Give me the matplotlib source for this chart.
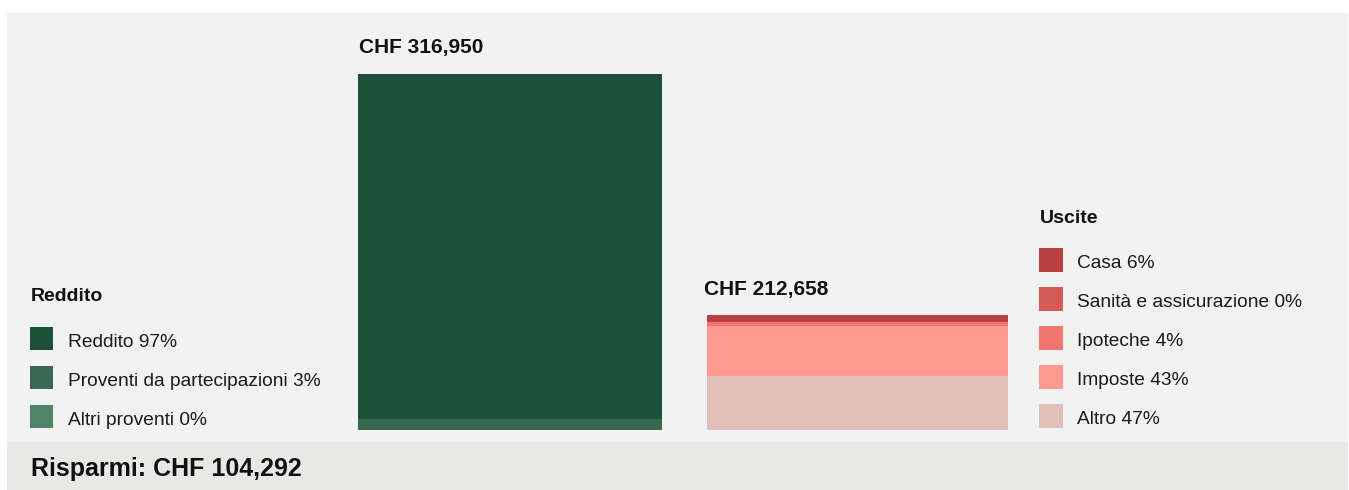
import matplotlib.pyplot as plt
from matplotlib.patches import Rectangle

plt.rcParams['font.family'] = ['Liberation Sans', 'DejaVu Sans']

# data
income_total = 316950
expense_total = 212658
savings = 104292
income_labels = ["Reddito", "Proventi da partecipazioni", "Altri proventi"]
income_pct = [97, 3, 0]
income_colors = ["#1c5038", "#366950", "#4f8469"]

expense_labels = ["Casa", "Sanità e assicurazione", "Ipoteche", "Imposte", "Altro"]
expense_pct = [6, 0, 4, 43, 47]
expense_colors = ["#b94142", "#d65a58", "#f27670", "#fe9a90", "#e2bfb9"]
# height of the expense bar as it is drawn in the original
expense_drawn = 102300

W, H = 1349, 490
fig = plt.figure(figsize=(W / 100, H / 100), dpi=100)
fig.patch.set_facecolor("white")

# background layer in pixel coordinates
bg = fig.add_axes([0, 0, 1, 1])
bg.set_xlim(0, W)
bg.set_ylim(H, 0)
bg.axis("off")
bg.add_patch(Rectangle((7, 13), W - 8, 429, facecolor="#f2f2f2", edgecolor="none"))
bg.add_patch(Rectangle((7, 442), W - 8, 48, facecolor="#e8e8e6", edgecolor="none"))

# bars
base_px, top_px = 429.5, 74
ax = fig.add_axes([0, (H - base_px) / H, 1, (base_px - top_px) / H])
ax.set_xlim(0, W)
ax.set_ylim(0, income_total)
ax.axis("off")
ax.patch.set_alpha(0)

# income bar: bottom segment is the last one in the legend
bottom = 0
for pct, col in reversed(list(zip(income_pct, income_colors))):
    h = income_total * pct / 100
    ax.bar(510, h, width=304, bottom=bottom, color=col, linewidth=0)
    bottom += h

bottom = 0
for pct, col in reversed(list(zip(expense_pct, expense_colors))):
    h = expense_drawn * pct / 100
    ax.bar(857.5, h, width=301, bottom=bottom, color=col, linewidth=0)
    bottom += h

txt = "#111111"
bg.text(359, 53, f"CHF {income_total:,}", fontsize=15, fontweight="bold", color=txt, va="baseline")
bg.text(704, 295, f"CHF {expense_total:,}", fontsize=15, fontweight="bold", color=txt, va="baseline")
bg.text(31, 476, f"Risparmi: CHF {savings:,}", fontsize=18, fontweight="bold", color=txt, va="baseline")

# legends
bg.text(31, 301, "Reddito", fontsize=14, fontweight="bold", color=txt, va="baseline")
for i, (lab, pct, col) in enumerate(zip(income_labels, income_pct, income_colors)):
    cy = 338.3 + 39 * i
    bg.add_patch(Rectangle((30, cy - 11.7), 23.4, 23.4, facecolor=col, edgecolor="none"))
    bg.text(68, cy + 8.3, f"{lab} {pct}%", fontsize=13.75, color="#1a1a1a", va="baseline")

bg.text(1040, 222.5, "Uscite", fontsize=14, fontweight="bold", color=txt, va="baseline")
for i, (lab, pct, col) in enumerate(zip(expense_labels, expense_pct, expense_colors)):
    cy = 260 + 39 * i
    bg.add_patch(Rectangle((1039.3, cy - 11.7), 24, 23.4, facecolor=col, edgecolor="none"))
    bg.text(1077, cy + 8.3, f"{lab} {pct}%", fontsize=13.75, color="#1a1a1a", va="baseline")

fig.savefig("out.png", dpi=100, facecolor=fig.get_facecolor())
